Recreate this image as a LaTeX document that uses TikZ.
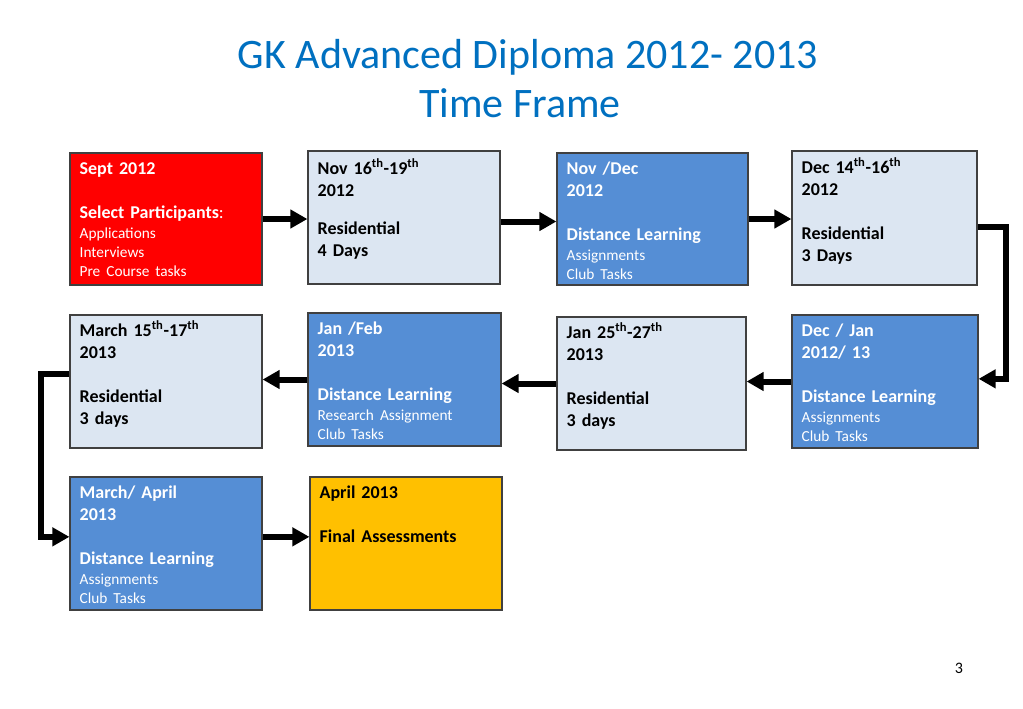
\documentclass[tikz,border=0pt]{standalone}
\usepackage{fontspec}
\setmainfont{Carlito}
\usepackage{xcolor}
\usetikzlibrary{arrows.meta,fit}
\definecolor{tfred}{RGB}{255,0,0}
\definecolor{tflight}{RGB}{220,230,242}
\definecolor{tfblue}{RGB}{85,142,213}
\definecolor{tfgold}{RGB}{255,192,0}
\definecolor{tftitle}{RGB}{0,112,192}
\newcommand{\sm}[1]{{\fontsize{11.5}{13.9}\selectfont\mdseries #1}}
\newcommand{\thh}{\textsuperscript{th}}

\begin{document}
\begin{tikzpicture}[x=0.75pt, y=-0.75pt,
  box/.style={draw=black!75, line width=0.9pt, inner sep=0pt},
  redbox/.style={box, fill=tfred},
  lightbox/.style={box, fill=tflight},
  bluebox/.style={box, fill=tfblue},
  goldbox/.style={box, fill=tfgold},
  txt/.style={anchor=base west, inner sep=0pt, text width=140pt,
              execute at begin node=\raggedright,
              font=\fontsize{13.5}{16.5}\selectfont\bfseries},
  wtxt/.style={txt, text=white},
  ttl/.style={anchor=base, text=tftitle, font=\fontsize{31.5}{38}\selectfont},
  arr/.style={line width=4.5pt, line join=miter, -{Triangle[length=12.75pt,width=13.5pt]}},
]
\fill[white] (0,0) rectangle (1023,708);
\useasboundingbox (0,0) rectangle (1023,708);
% ---- title
\node[ttl] (t1) at (528,68) {GK Advanced Diploma 2012- 2013};
\node[ttl] (t2) at (520,117) {Time Frame};
% ---- boxes, row by row
\node[redbox,   fit={(70,153) (262,285)}]  (sept)   {};
\node[lightbox, fit={(308,151) (500,284)}] (nov16)  {};
\node[bluebox,  fit={(557,153) (748,285)}] (novdec) {};
\node[lightbox, fit={(792,151) (977,285)}] (dec14)  {};
\node[lightbox, fit={(70,315) (262,448)}]  (mar15)  {};
\node[bluebox,  fit={(308,313) (501,446)}] (janfeb) {};
\node[lightbox, fit={(557,317) (746,450)}] (jan25)  {};
\node[bluebox,  fit={(792,315) (978,448)}] (decjan) {};
\node[bluebox,  fit={(70,477) (262,610)}]  (marapr) {};
\node[goldbox,  fit={(310,477) (502,610)}] (april)  {};
% ---- texts
\node[wtxt] (septt) at ([shift={(10,22)}]sept.north west)
  {Sept 2012\\[16.5pt]Select Participants{\mdseries:}\\[-1.5pt]\sm{Applications}\\[-2.2pt]\sm{Interviews}\\[-2.2pt]\sm{Pre Course tasks}};
\node[txt] (nov16t) at ([shift={(10,24)}]nov16.north west)
  {Nov 16\thh-19\thh\\2012\\[12pt]Residential\\4 Days};
\node[wtxt] (novdect) at ([shift={(10,22)}]novdec.north west)
  {Nov /Dec\\2012\\[16.5pt]Distance Learning\\[-1.5pt]\sm{Assignments}\\[-2.2pt]\sm{Club Tasks}};
\node[txt] (dec14t) at ([shift={(10,23)}]dec14.north west)
  {Dec 14\thh-16\thh\\2012\\[16.5pt]Residential\\3 Days};
\node[txt] (mar15t) at ([shift={(10,22)}]mar15.north west)
  {March 15\thh-17\thh\\2013\\[16.5pt]Residential\\3 days};
\node[wtxt] (janfebt) at ([shift={(10,22)}]janfeb.north west)
  {Jan /Feb\\2013\\[16.5pt]Distance Learning\\[-1.5pt]\sm{Research Assignment}\\[-2.2pt]\sm{Club Tasks}};
\node[txt] (jan25t) at ([shift={(10,22)}]jan25.north west)
  {Jan 25\thh-27\thh\\2013\\[16.5pt]Residential\\3 days};
\node[wtxt] (decjant) at ([shift={(10,22)}]decjan.north west)
  {Dec / Jan\\2012/ 13\\[16.5pt]Distance Learning\\[-1.5pt]\sm{Assignments}\\[-2.2pt]\sm{Club Tasks}};
\node[wtxt] (maraprt) at ([shift={(10,22)}]marapr.north west)
  {March/ April\\2013\\[16.5pt]Distance Learning\\[-1.5pt]\sm{Assignments}\\[-2.2pt]\sm{Club Tasks}};
\node[txt] (aprilt) at ([shift={(10,22)}]april.north west)
  {April 2013\\[16.5pt]Final Assessments};
% ---- flow: left to right, down, right to left, down, left to right
\draw[arr] (sept.east) -- (sept.east -| nov16.west);
\draw[arr] ([yshift=-3pt]nov16.east) -- ([yshift=-3pt]nov16.east -| novdec.west);
\draw[arr] (novdec.east) -- (novdec.east -| dec14.west);
\draw[arr] ([yshift=-7pt]dec14.east) -- ++(28,0) |- ([yshift=2pt]decjan.east);
\draw[arr] (decjan.west) -- (decjan.west -| jan25.east);
\draw[arr] (jan25.west) -- (jan25.west -| janfeb.east);
\draw[arr] (janfeb.west) -- (janfeb.west -| mar15.east);
\draw[arr] ([yshift=6pt]mar15.west) -- ++(-28,0) |- ([yshift=5pt]marapr.west);
\draw[arr] ([yshift=5pt]marapr.east) -- ([yshift=5pt]marapr.east -| april.west);
% page number
\node[anchor=base, font=\fontsize{12}{14}\selectfont] (pg) at (959,673) {3};
\end{tikzpicture}
\end{document}
